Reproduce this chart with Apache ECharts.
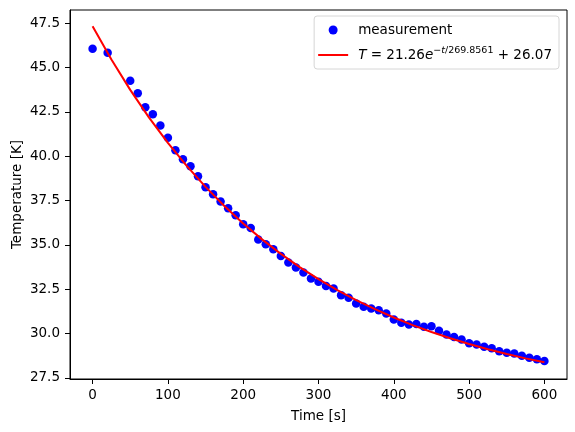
<!DOCTYPE html>
<html>
<head>
<meta charset="utf-8">
<script src="https://cdn.jsdelivr.net/npm/echarts@6/dist/echarts.min.js"></script>
<style>html,body{margin:0;padding:0;background:#fff}#c{width:575px;height:432px}</style>
</head>
<body>
<div id="c"></div>
<script>
const times = [0,20,50,60,70,80,90,100,110,120,130,140,150,160,170,180,190,200,210,220,230,240,250,260,270,280,290,300,310,320,330,340,350,360,370,380,390,400,410,420,430,440,450,460,470,480,490,500,510,520,530,540,550,560,570,580,590,600];
const temps = [46.06,45.83,44.25,43.54,42.75,42.36,41.72,41.04,40.33,39.82,39.43,38.86,38.24,37.85,37.44,37.06,36.67,36.16,35.95,35.3,35.03,34.75,34.37,34.0,33.72,33.44,33.1,32.91,32.68,32.54,32.16,32.01,31.69,31.5,31.41,31.31,31.13,30.79,30.6,30.51,30.53,30.37,30.41,30.15,29.94,29.8,29.66,29.44,29.38,29.25,29.16,29.0,28.91,28.87,28.74,28.63,28.54,28.44];
const fitTimes = [0,25,50,75,100,125,150,175,200,225,250,275,300,325,350,375,400,425,450,475,500,525,550,575,600];
const fitValues = [47.33,45.449,43.734,42.171,40.747,39.448,38.264,37.185,36.202,35.305,34.488,33.743,33.064,32.446,31.881,31.367,30.899,30.471,30.082,29.727,29.403,29.108,28.840,28.594,28.371];
const xTicks = [0,100,200,300,400,500,600];
const yTicks = [27.5,30.0,32.5,35.0,37.5,40.0,42.5,45.0,47.5];

const F = 'DejaVu Sans';
const FS = 13.5;
const chart = echarts.init(document.getElementById('c'), null, {renderer:'canvas'});
chart.setOption({
  animation: false,
  backgroundColor: '#fff',
  grid: {left:70, right:8, top:10, bottom:53, show:true, borderColor:'#000', borderWidth:1, backgroundColor:'transparent', outerBoundsMode:'none', containLabel:false},
  xAxis: {
    type:'value', min:-30, max:630,
    name:'Time [s]', nameLocation:'middle', nameGap:30, nameMoveOverlap:false,
    nameTextStyle:{fontFamily:F, fontSize:FS, color:'#000'},
    axisLine:{show:true, onZero:false, lineStyle:{color:'#000', width:1}},
    axisTick:{show:true, length:5, inside:false, customValues:xTicks, lineStyle:{color:'#000'}},
    axisLabel:{customValues:xTicks, fontFamily:F, fontSize:FS, color:'#000', margin:9, showMinLabel:true, showMaxLabel:true},
    splitLine:{show:false}
  },
  yAxis: {
    type:'value', min:27.43, max:48.24,
    name:'Temperature [K]', nameLocation:'middle', nameGap:46, nameMoveOverlap:false,
    nameTextStyle:{fontFamily:F, fontSize:FS, color:'#000'},
    axisLine:{show:true, onZero:false, lineStyle:{color:'#000', width:1}},
    axisTick:{show:true, length:5, customValues:yTicks, lineStyle:{color:'#000'}},
    axisLabel:{customValues:yTicks, fontFamily:F, fontSize:FS, color:'#000', margin:10, formatter:(v)=>v.toFixed(1)},
    splitLine:{show:false}
  },
  legend: {
    orient:'vertical', right:16, top:16,
    backgroundColor:'#fff', borderColor:'#d6d6d6', borderWidth:1, borderRadius:3,
    padding:[7,7,7,4], itemGap:9, itemWidth:30, itemHeight:9,
    textStyle:{fontFamily:F, fontSize:FS, color:'#000', padding:[0,0,0,5],
      rich:{
        it:{fontFamily:F, fontStyle:'italic', fontSize:FS, color:'#000'},
        n:{fontFamily:F, fontSize:FS, color:'#000'},
        sup:{fontFamily:F, fontSize:9.5, color:'#000', padding:[0,0,8,0]},
        supi:{fontFamily:F, fontStyle:'italic', fontSize:9.5, color:'#000', padding:[0,0,8,0]}
      }},
    formatter:(name)=> name === 'fit'
      ? '{it|T}{n| = 21.26}{it|e}{sup|−}{supi|t}{sup|/269.8561}{n| + 26.07}'
      : name,
    data:[{name:'measurement', icon:'circle'}, {name:'fit', icon:'path://M0,0h30v2h-30z'}]
  },
  series: [
    {name:'measurement', type:'scatter', symbol:'circle', symbolSize:8.5,
     itemStyle:{color:'#0000ff', opacity:1},
     data: times.map((t,i)=>[t, temps[i]]), z:2},
    {name:'fit', type:'line', showSymbol:false, symbol:'none',
     lineStyle:{color:'#ff0000', width:2}, itemStyle:{color:'#ff0000'},
     data: fitTimes.map((t,i)=>[t, fitValues[i]]), z:3}
  ]
});
</script>
</body>
</html>
